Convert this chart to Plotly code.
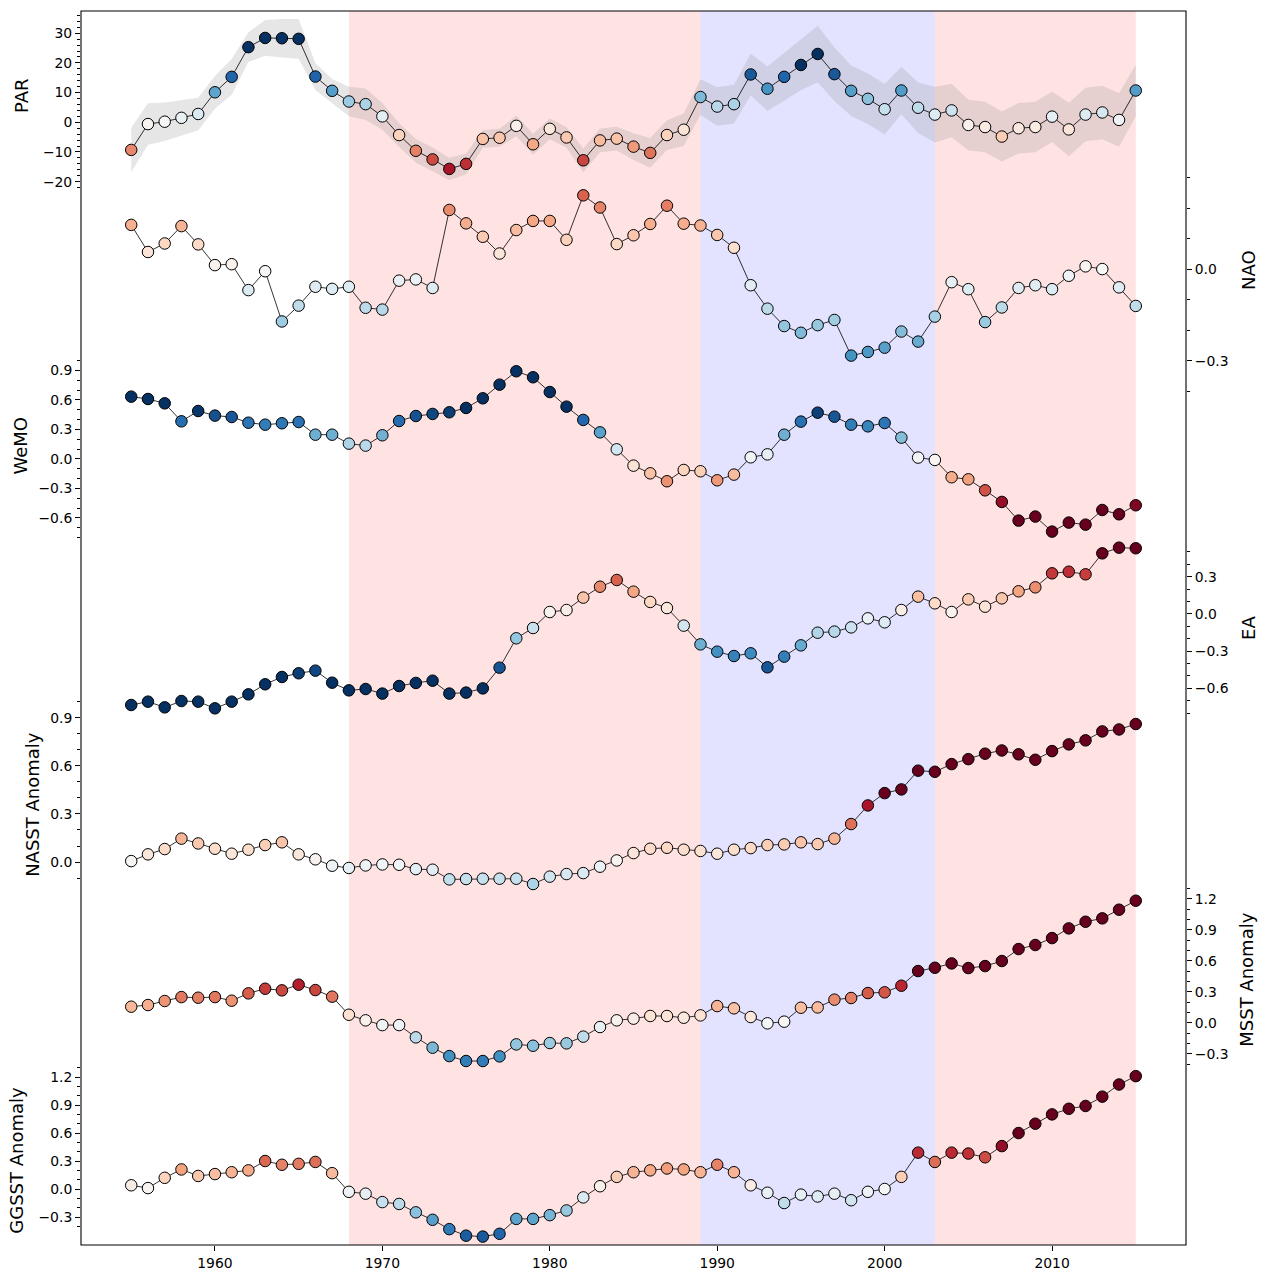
import plotly.graph_objects as go

years = list(range(1955, 2016))

par = [-9.3, -0.6, 0.2, 1.5, 2.8, 10.1, 15.3, 25.3, 28.4, 28.3, 28.1, 15.4, 10.6, 7.0, 6.1, 2.0,
       -4.3, -9.6, -12.5, -15.7, -14.0, -5.6, -5.2, -1.2, -7.4, -2.2, -5.1, -12.8, -6.1, -5.5, -8.2,
       -10.3, -4.3, -2.5, 8.5, 5.3, 6.1, 16.1, 11.3, 15.3, 19.3, 23.0, 16.2, 10.6, 7.9, 4.4,
       10.7, 4.9, 2.6, 4.0, -0.9, -1.6, -4.8, -2.0, -1.6, 1.9, -2.4, 2.6, 3.3, 0.8, 10.7]
par_lo = [-16.8, -7.6, -6.3, -4.5, -2.7, 4.6, 9.3, 20.3, 22.4, 21.8, 21.4, 10.9, 6.6, 2.0, 0.8, -2.5,
          -8.3, -13.6, -16.5, -19.5, -17.5, -8.6, -8.2, -4.7, -10.9, -5.7, -8.6, -16.8, -10.1, -9.5, -12.7,
          -15.3, -9.3, -8.0, 2.5, -1.2, -0.4, 9.1, 3.8, 7.3, 10.8, 13.5, 7.2, 2.1, -0.6, -4.1,
          2.7, -3.6, -6.8, -5.0, -9.4, -10.1, -13.2, -10.5, -10.1, -6.6, -11.4, -6.4, -5.7, -8.2, 2.0]
par_hi = [-1.8, 6.4, 6.7, 7.5, 8.3, 15.6, 21.3, 30.3, 34.4, 34.8, 34.8, 19.9, 14.6, 12.0, 11.4, 6.5,
          -0.3, -5.6, -8.5, -11.9, -10.5, -2.6, -2.2, 2.3, -3.9, 1.3, -1.6, -8.8, -2.1, -1.5, -3.7,
          -5.3, 0.7, 3.0, 14.5, 11.8, 12.6, 23.1, 18.8, 23.3, 27.8, 32.5, 25.2, 19.1, 16.4, 12.9,
          18.7, 13.4, 12.0, 13.0, 7.6, 6.9, 3.6, 6.5, 6.9, 10.4, 6.6, 11.6, 12.3, 9.8, 19.4]
nao = [0.146, 0.057, 0.085, 0.142, 0.082, 0.014, 0.017, -0.068, -0.006, -0.171, -0.119, -0.057,
       -0.064, -0.057, -0.126, -0.132, -0.037, -0.033, -0.061, 0.195, 0.151, 0.107, 0.052, 0.129,
       0.159, 0.159, 0.097, 0.243, 0.203, 0.083, 0.112, 0.149, 0.209, 0.150, 0.144, 0.113, 0.071,
       -0.052, -0.129, -0.186, -0.208, -0.183, -0.166, -0.283, -0.271, -0.257, -0.204, -0.237,
       -0.155, -0.042, -0.065, -0.173, -0.125, -0.061, -0.052, -0.065, -0.021, 0.010, 0.001,
       -0.059, -0.120]
wemo = [0.634, 0.61, 0.566, 0.383, 0.488, 0.441, 0.427, 0.369, 0.349, 0.363, 0.376, 0.247, 0.247,
        0.156, 0.136, 0.241, 0.386, 0.437, 0.458, 0.475, 0.519, 0.617, 0.756, 0.892, 0.831, 0.681,
        0.532, 0.397, 0.271, 0.098, -0.068, -0.146, -0.227, -0.112, -0.125, -0.217, -0.159, 0.017,
        0.047, 0.247, 0.38, 0.471, 0.43, 0.349, 0.332, 0.366, 0.217, 0.014, -0.01, -0.186, -0.207,
        -0.319, -0.437, -0.627, -0.586, -0.739, -0.647, -0.668, -0.519, -0.563, -0.471]
ea = [-0.734, -0.707, -0.753, -0.702, -0.707, -0.761, -0.707, -0.648, -0.567, -0.508, -0.478,
      -0.457, -0.554, -0.616, -0.605, -0.642, -0.581, -0.556, -0.538, -0.642, -0.634, -0.6, -0.433,
      -0.196, -0.113, 0.016, 0.032, 0.132, 0.22, 0.274, 0.18, 0.097, 0.048, -0.094, -0.245, -0.304,
      -0.339, -0.317, -0.43, -0.344, -0.253, -0.151, -0.142, -0.108, -0.035, -0.067, 0.032, 0.14,
      0.086, 0.016, 0.118, 0.059, 0.126, 0.183, 0.215, 0.328, 0.341, 0.32, 0.489, 0.535, 0.53]
nasst = [0.006, 0.048, 0.081, 0.146, 0.116, 0.083, 0.052, 0.077, 0.106, 0.123, 0.048, 0.017,
         -0.023, -0.037, -0.021, -0.015, -0.017, -0.044, -0.048, -0.108, -0.106, -0.104, -0.104,
         -0.104, -0.137, -0.091, -0.075, -0.069, -0.029, 0.01, 0.056, 0.083, 0.089, 0.077, 0.069,
         0.052, 0.077, 0.087, 0.106, 0.11, 0.123, 0.112, 0.146, 0.237, 0.353, 0.43, 0.453, 0.57,
         0.563, 0.611, 0.642, 0.676, 0.696, 0.672, 0.638, 0.692, 0.734, 0.759, 0.815, 0.827, 0.861]
msst = [0.155, 0.171, 0.21, 0.248, 0.242, 0.248, 0.213, 0.284, 0.329, 0.313, 0.368, 0.316, 0.252,
        0.077, 0.023, -0.023, -0.023, -0.142, -0.242, -0.323, -0.371, -0.371, -0.326, -0.21,
        -0.223, -0.197, -0.2, -0.135, -0.042, 0.023, 0.039, 0.065, 0.065, 0.048, 0.071, 0.161,
        0.139, 0.055, -0.006, 0.01, 0.145, 0.148, 0.223, 0.239, 0.287, 0.294, 0.358, 0.5, 0.532,
        0.574, 0.529, 0.548, 0.597, 0.713, 0.752, 0.819, 0.913, 0.977, 1.01, 1.094, 1.181]
ggsst = [0.04, 0.01, 0.12, 0.21, 0.14, 0.16, 0.18, 0.2, 0.3, 0.26, 0.27, 0.29, 0.17, -0.03, -0.05,
         -0.14, -0.16, -0.25, -0.33, -0.43, -0.5, -0.51, -0.48, -0.32, -0.32, -0.28, -0.23, -0.09,
         0.03, 0.13, 0.18, 0.2, 0.22, 0.21, 0.18, 0.26, 0.18, 0.04, -0.04, -0.15, -0.06, -0.08,
         -0.05, -0.12, -0.03, 0.0, 0.13, 0.39, 0.29, 0.39, 0.38, 0.34, 0.46, 0.6, 0.7, 0.8, 0.86,
         0.89, 0.99, 1.12, 1.21]

# shaded periods (start, end, colour)
periods = [(1968, 1989, "rgba(255,0,0,0.11)"),
           (1989, 2003, "rgba(0,0,255,0.11)"),
           (2003, 2015, "rgba(255,0,0,0.11)")]

FONT = "DejaVu Sans"
TICK_SIZE = 13.9
LABEL_SIZE = 18

RDBU = ["#67001f", "#b2182b", "#d6604d", "#f4a582", "#fddbc7", "#f7f7f7",
        "#d1e5f0", "#92c5de", "#4393c3", "#2166ac", "#053061"]


def diverging(vmin, vmax, low_is_blue=True):
    """Two-slope RdBu colourscale with white at value 0."""
    cols = RDBU[::-1] if low_is_blue else RDBU
    mid = -vmin / (vmax - vmin)
    stops = []
    for i, c in enumerate(cols):
        t = i / 10
        pos = t / 0.5 * mid if t <= 0.5 else mid + (t - 0.5) / 0.5 * (1 - mid)
        stops.append([min(max(pos, 0), 1), c])
    return stops


def fmt(v, dec):
    s = f"{abs(v):.{dec}f}"
    return ("\u2212" + s) if v < 0 else s


# name, values, axis id, side, axis range, major ticks, minor ticks, decimals, colour norm
series = [
    ("PAR", par, "y", "left", [-378.0, 37.47], [-20, -10, 0, 10, 20, 30],
     [v for v in range(-22, 37, 2) if v % 10], 0, (-19, 19, False)),
    ("NAO", nao, "y2", "right", [-3.202, 0.848], [-0.3, 0.0],
     [-0.4, -0.2, -0.1, 0.1, 0.2, 0.3], 1, (-0.47, 0.41, True)),
    ("WeMO", wemo, "y3", "left", [-7.996, 4.557], [-0.6, -0.3, 0.0, 0.3, 0.6, 0.9],
     [-0.8, -0.7, -0.5, -0.4, -0.2, -0.1, 0.1, 0.2, 0.4, 0.5, 0.7, 0.8, 1.0], 1, (-0.5, 0.5, False)),
    ("EA", ea, "y4", "right", [-5.089, 4.863], [-0.6, -0.3, 0.0, 0.3],
     [-0.8, -0.7, -0.5, -0.4, -0.2, -0.1, 0.1, 0.2, 0.4, 0.5], 1, (-0.5, 0.46, True)),
    ("NASST Anomaly", nasst, "y5", "left", [-2.389, 5.309], [0.0, 0.3, 0.6, 0.9],
     [-0.1, 0.1, 0.2, 0.4, 0.5, 0.7, 0.8, 1.0], 1, (-0.45, 0.43, True)),
    ("MSST Anomaly", msst, "y6", "right", [-2.152, 9.794], [-0.3, 0.0, 0.3, 0.6, 0.9, 1.2],
     [-0.4, -0.2, -0.1, 0.1, 0.2, 0.4, 0.5, 0.7, 0.8, 1.0, 1.1, 1.3], 1, (-0.53, 0.47, True)),
    ("GGSST Anomaly", ggsst, "y7", "left", [-0.600, 12.626], [-0.3, 0.0, 0.3, 0.6, 0.9, 1.2],
     [-0.4, -0.2, -0.1, 0.1, 0.2, 0.4, 0.5, 0.7, 0.8, 1.0, 1.1, 1.3], 1, (-0.6, 0.52, True)),
]

# axis-title positions (paper x, paper y)
title_pos = {
    "PAR": (-0.0534, 0.932),
    "NAO": (1.056, 0.790),
    "WeMO": (-0.055, 0.648),
    "EA": (1.056, 0.5),
    "NASST Anomaly": (-0.044, 0.357),
    "MSST Anomaly": (1.054, 0.2147),
    "GGSST Anomaly": (-0.058, 0.069),
}

fig = go.Figure()

# confidence band for PAR
fig.add_trace(go.Scatter(x=years, y=par_hi, yaxis="y", mode="lines", line=dict(width=0),
                         showlegend=False, hoverinfo="skip"))
fig.add_trace(go.Scatter(x=years, y=par_lo, yaxis="y", mode="lines", line=dict(width=0),
                         fill="tonexty", fillcolor="rgba(128,128,128,0.2)",
                         showlegend=False, hoverinfo="skip"))

layout_axes = {}
annotations = []
for i, (name, vals, yid, side, rng, major, minor, dec, norm) in enumerate(series):
    vmin, vmax, low_blue = norm
    fig.add_trace(go.Scatter(
        x=years, y=vals, yaxis=yid, mode="lines+markers", name=name,
        line=dict(color="black", width=0.8),
        marker=dict(size=11.5, color=vals, colorscale=diverging(vmin, vmax, low_blue),
                    cmin=vmin, cmax=vmax, showscale=False,
                    line=dict(color="black", width=1)),
        showlegend=False,
    ))
    ax = dict(
        range=rng, side=side, anchor="x", showgrid=False, zeroline=False, showline=False,
        tickmode="array", tickvals=major, ticktext=[fmt(v, dec) for v in major],
        ticks="outside", ticklen=5, tickwidth=1.1, tickcolor="black",
        tickfont=dict(family=FONT, size=TICK_SIZE, color="black"),
        minor=dict(tickmode="array", tickvals=minor, ticks="outside", ticklen=3,
                   tickwidth=0.8, tickcolor="black"),
        automargin=False, fixedrange=True,
    )
    if i > 0:
        ax["overlaying"] = "y"
    key = "yaxis" if yid == "y" else "yaxis" + yid[1:]
    layout_axes[key] = ax
    px_, py_ = title_pos[name]
    annotations.append(dict(text=name, x=px_, y=py_, xref="paper", yref="paper",
                            textangle=-90, showarrow=False, xanchor="center", yanchor="middle",
                            font=dict(family=FONT, size=LABEL_SIZE, color="black")))

shapes = [dict(type="rect", xref="x", yref="paper", x0=a, x1=b, y0=0, y1=1,
               fillcolor=c, line=dict(width=0), layer="below") for a, b, c in periods]
shapes.append(dict(type="rect", xref="paper", yref="paper", x0=0, x1=1, y0=0, y1=1,
                   line=dict(color="black", width=1.1), layer="above"))

fig.update_layout(
    width=1269, height=1270,
    margin=dict(l=81, r=83, t=11, b=25),
    paper_bgcolor="white", plot_bgcolor="white",
    xaxis=dict(range=[1952, 2018], tickmode="array", tickvals=[1960, 1970, 1980, 1990, 2000, 2010],
               ticks="outside", ticklen=5, tickwidth=1.1, tickcolor="black",
               showgrid=False, zeroline=False, showline=False, automargin=False,
               tickfont=dict(family=FONT, size=TICK_SIZE, color="black"), fixedrange=True),
    shapes=shapes,
    annotations=annotations,
    **layout_axes,
)

fig.write_html("out.html")
